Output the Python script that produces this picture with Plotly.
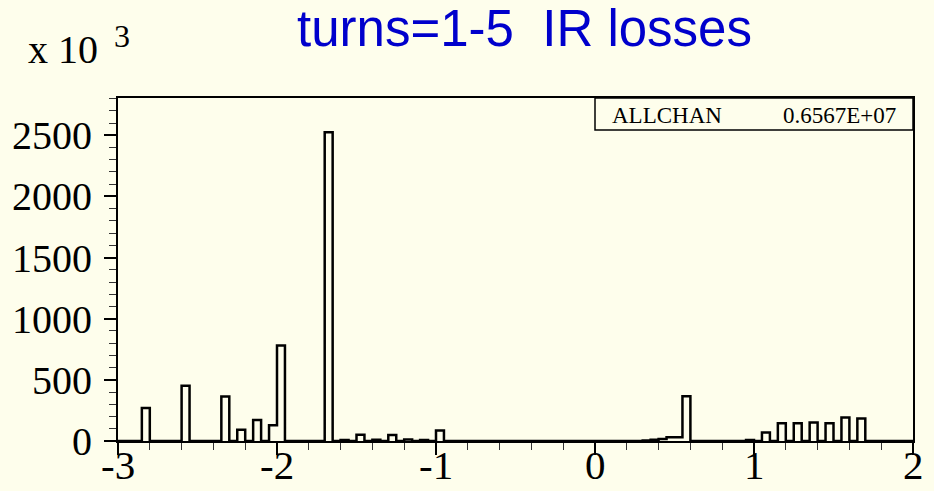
import numpy as np
import plotly.graph_objects as go

# ---- data (counts in units of 10^3) ----
bin_lo = -3.0
bin_width = 0.05
n_bins = 100
nonzero_bin_left = [-2.85, -2.60, -2.35, -2.25, -2.15, -2.05, -2.00, -1.70,
                    -1.60, -1.50, -1.40, -1.30, -1.20, -1.10, -1.00,
                    0.30, 0.35, 0.40, 0.45, 0.50, 0.55,
                    0.95, 1.05, 1.15, 1.25, 1.35, 1.45, 1.55, 1.65]
nonzero_counts = [270, 451, 364, 93, 172, 129, 782, 2525,
                  8, 52, 10, 49, 12, 8, 85,
                  4, 10, 16, 30, 30, 365,
                  8, 69, 145, 145, 151, 145, 192, 184]
x_tickvals = [-3, -2, -1, 0, 1, 2]
x_ticktext = ["-3", "-2", "-1", "0", "1", "2"]
y_tickvals = [0, 500, 1000, 1500, 2000, 2500]
y_ticktext = ["0", "500", "1000", "1500", "2000", "2500"]
title_text = "turns=1-5  IR losses"
stat_name = "ALLCHAN"
stat_value = "0.6567E+07"

# build full histogram
edges = bin_lo + bin_width * np.arange(n_bins + 1)
counts = np.zeros(n_bins)
for xl, c in zip(nonzero_bin_left, nonzero_counts):
    idx = int(round((xl - bin_lo) / bin_width))
    counts[idx] = c
step_y = np.append(counts, counts[-1])

W, H = 934, 491
L, R, T, B = 118, 21, 98, 50
pw, ph = W - L - R, H - T - B


def px2x(px):
    return (px - L) / pw


def py2y(py):
    return 1 - (py - T) / ph


BG = "#FEFEEC"
SERIF = "Liberation Serif"

fig = go.Figure()
fig.add_trace(go.Scatter(x=edges, y=step_y, mode="lines", line_shape="hv",
                         line=dict(color="black", width=2.5), hoverinfo="skip",
                         showlegend=False))

fig.update_layout(
    width=W, height=H,
    margin=dict(l=L, r=R, t=T, b=B, pad=0, autoexpand=False),
    paper_bgcolor=BG, plot_bgcolor=BG,
    showlegend=False,
)
fig.update_xaxes(
    range=[-3, 2], showgrid=False, zeroline=False, automargin=False,
    showline=True, linecolor="black", linewidth=2, mirror=True,
    tickmode="array", tickvals=x_tickvals, ticktext=x_ticktext,
    showticklabels=False,
    ticks="outside", ticklen=12, tickwidth=1.5, tickcolor="black",
    minor=dict(tick0=-3, dtick=0.2, ticks="outside", ticklen=7, tickwidth=1.2, tickcolor="#333"),
)
fig.update_yaxes(
    range=[0, 2805], showgrid=False, zeroline=False, automargin=False,
    showline=True, linecolor="black", linewidth=2, mirror=True,
    tickmode="array", tickvals=y_tickvals, ticktext=y_ticktext,
    ticks="outside", ticklen=12, tickwidth=1.5, tickcolor="black",
    minor=dict(tick0=0, dtick=100, ticks="outside", ticklen=7, tickwidth=1.2, tickcolor="#333"),
    tickfont=dict(family=SERIF, size=40, color="black"),
    ticklabelstandoff=4,
)

fig.add_shape(type="rect", xref="paper", yref="paper",
              x0=px2x(595), x1=1, y0=py2y(130), y1=1,
              fillcolor=BG, line=dict(color="black", width=1.5))

# x tick labels as text placed at the tick values
for v, t in zip(x_tickvals, x_ticktext):
    fig.add_annotation(xref="x", yref="paper", x=v, y=py2y(490), text=t,
                       showarrow=False, xanchor="center", yanchor="bottom",
                       font=dict(family=SERIF, size=41, color="black"))

annots = [
    dict(text=title_text, x=px2x(524), y=py2y(28), xanchor="center", yanchor="middle",
         font=dict(family="Liberation Sans", size=51, color="#0000CC")),
    dict(text="x 10", x=px2x(26), y=py2y(49), xanchor="left", yanchor="middle",
         font=dict(family=SERIF, size=40, color="black")),
    dict(text="3", x=px2x(112), y=py2y(36), xanchor="left", yanchor="middle",
         font=dict(family=SERIF, size=32, color="black")),
    dict(text=stat_name, x=px2x(610), y=py2y(115), xanchor="left", yanchor="middle",
         font=dict(family=SERIF, size=23, color="black")),
    dict(text=stat_value, x=px2x(898), y=py2y(115), xanchor="right", yanchor="middle",
         font=dict(family=SERIF, size=23, color="black")),
]
for a in annots:
    fig.add_annotation(xref="paper", yref="paper", showarrow=False, **a)

fig.write_html("out.html")
